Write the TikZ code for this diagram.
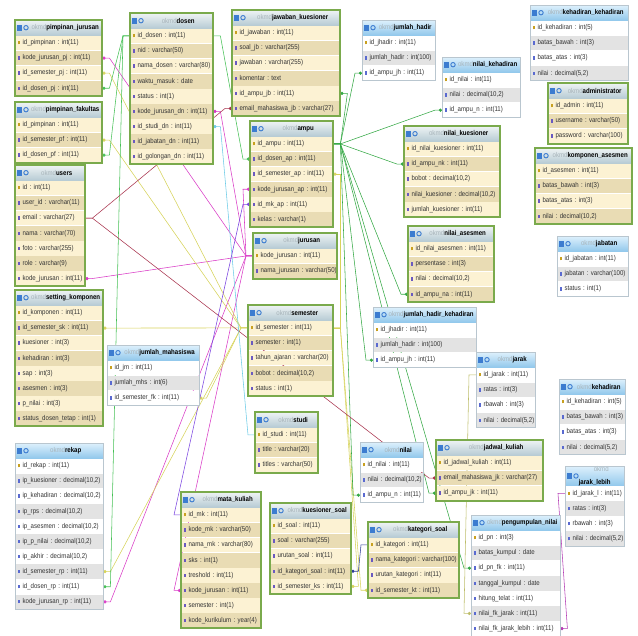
\documentclass[tikz,border=0pt]{standalone}
\usepackage{fontspec}
\setmainfont{Liberation Sans}[FakeStretch=0.87]
\usepackage{xcolor}
\usetikzlibrary{arrows.meta, positioning, backgrounds}
\definecolor{gHeadTop}{HTML}{EEF3F4}
\definecolor{gHeadBot}{HTML}{B7CBD4}
\definecolor{bHeadTop}{HTML}{DDF0FC}
\definecolor{bHeadBot}{HTML}{92C8EC}
\definecolor{gfield1}{HTML}{FCF2D3}
\definecolor{gfield2}{HTML}{E9DCB4}
\definecolor{bfield1}{HTML}{FFFFFF}
\definecolor{bfield2}{HTML}{E3E3E3}
\definecolor{gFrame}{HTML}{7AAA4C}
\definecolor{bFrame}{HTML}{B9C6CF}
\definecolor{okmdgray}{HTML}{A8B4BA}
\definecolor{hdrIcon}{HTML}{3C7CD0}
\definecolor{keygold}{HTML}{C8A020}
\definecolor{gicon}{HTML}{6A5AC0}
\definecolor{bicon}{HTML}{5A6AD0}
\definecolor{cJur}{HTML}{D93BC6}
\definecolor{cSem}{HTML}{D6D35A}
\definecolor{cDos}{HTML}{45C055}
\definecolor{cAmpu}{HTML}{34A844}
\definecolor{cMail}{HTML}{A8344E}
\definecolor{cStudi}{HTML}{6CCBE6}
\definecolor{cMk}{HTML}{7B45E0}
\definecolor{cKat}{HTML}{2C3C96}
\definecolor{cJarak}{HTML}{BDBD6A}
\definecolor{cJl}{HTML}{B43CB4}
\tikzset{
    gtitle/.style={rectangle, top color=gHeadTop, bottom color=gHeadBot, minimum height=15pt, inner sep=0pt, align=center, font=\fontsize{7}{8}\selectfont},
    btitle/.style={rectangle, top color=bHeadTop, bottom color=bHeadBot, minimum height=15pt, inner sep=0pt, align=center, font=\fontsize{7}{8}\selectfont},
    gfield/.style={rectangle, inner sep=0pt, minimum height=14.7pt, align=left, text=black!80, font=\fontsize{7}{8}\selectfont},
    bfield/.style={rectangle, inner sep=0pt, minimum height=14.7pt, align=left, text=black!80, font=\fontsize{7}{8}\selectfont},
    gframe/.style={draw=gFrame, line width=2pt},
    bframe/.style={draw=bFrame, line width=0.6pt},
    fk/.style={line width=0.55pt, {Circle[length=3.2pt]}-},
}
\newcommand{\okmd}{\textcolor{okmdgray}{okmd}}
% table: id, kind (g/b), x, y, width, header, fields
\newcommand{\dbtable}[7]{%
  \node[#2title, minimum width=#5pt, anchor=north west] (#1-0) at (#3,#4) {\hspace*{13pt}#6};
  \foreach \fld [count=\i, remember=\i as \j (initially 0)] in {#7}{
    \ifodd\i \def\rowcol{#2field1}\else \def\rowcol{#2field2}\fi
    \ifnum\i=1 \def\iconcol{keygold}\else \def\iconcol{#2icon}\fi
    \node[#2field, fill=\rowcol, text width=#5pt, below=0pt of #1-\j] (#1-\i)
      {\hspace*{2.5pt}\textcolor{\iconcol}{\rule[0.3pt]{2.4pt}{3.2pt}}\hspace{2.5pt}\mbox{\fld}};
    \xdef\lastrow{\i}
  }
  \draw[#2frame] (#1-0.north west) rectangle (#1-\lastrow.south east);
  \fill[hdrIcon] ([xshift=2pt,yshift=-3pt]#1-0.west) rectangle ++(5pt,6pt);
  \draw[hdrIcon, line width=0.9pt] ([xshift=11pt]#1-0.west) circle (2.2pt);
}

\begin{document}
\catcode`\_=12
\frenchspacing
\begin{tikzpicture}[x=1pt, y=-1pt]
    \useasboundingbox (0,0) rectangle (638,636);

    % left column
    \dbtable{pj}{g}{15}{20}{87}{\okmd\textbf{pimpinan_jurusan}}{id_pimpinan : int(11), kode_jurusan_pj : int(11), id_semester_pj : int(11), id_dosen_pj : int(11)}
    \dbtable{pf}{g}{15}{102}{87}{\okmd\textbf{pimpinan_fakultas}}{id_pimpinan : int(11), id_semester_pf : int(11), id_dosen_pf : int(11)}
    \dbtable{users}{g}{15}{165}{70}{\okmd\textbf{users}}{id : int(11), user_id : varchar(11), email : varchar(27), nama : varchar(70), foto : varchar(255), role : varchar(9), kode_jurusan : int(11)}
    \dbtable{sk}{g}{15}{290}{88}{\okmd\textbf{setting_komponen}}{id_komponen : int(11), id_semester_sk : int(11), kuesioner : int(3), kehadiran : int(3), sap : int(3), asesmen : int(3), p_nilai : int(3), status_dosen_tetap : int(1)}
    \dbtable{jm}{b}{107}{345}{92}{\okmd\textbf{jumlah_mahasiswa}}{id_jm : int(11), jumlah_mhs : int(6), id_semester_fk : int(11)}
    \dbtable{rekap}{b}{15}{443}{88}{\okmd\textbf{rekap}}{id_rekap : int(11), {ip_kuesioner : decimal(10,2)}, {ip_kehadiran : decimal(10,2)}, {ip_rps : decimal(10,2)}, {ip_asesmen : decimal(10,2)}, {ip_p_nilai : decimal(10,2)}, {ip_akhir : decimal(10,2)}, id_semester_rp : int(11), id_dosen_rp : int(11), kode_jurusan_rp : int(11)}

    % middle column
    \dbtable{dosen}{g}{130}{13}{83}{\okmd\textbf{dosen}}{id_dosen : int(11), nid : varchar(50), nama_dosen : varchar(80), waktu_masuk : date, status : int(1), kode_jurusan_dn : int(11), id_studi_dn : int(11), id_jabatan_dn : int(11), id_golongan_dn : int(11)}
    \dbtable{jb}{g}{232}{10}{108}{\okmd\textbf{jawaban_kuesioner}}{id_jawaban : int(11), soal_jb : varchar(255), jawaban : varchar(255), komentar : text, id_ampu_jb : int(11), email_mahasiswa_jb : varchar(27)}
    \dbtable{ampu}{g}{250}{121}{83}{\okmd\textbf{ampu}}{id_ampu : int(11), id_dosen_ap : int(11), id_semester_ap : int(11), kode_jurusan_ap : int(11), id_mk_ap : int(11), kelas : varchar(1)}
    \dbtable{jur}{g}{253}{233}{84}{\okmd\textbf{jurusan}}{kode_jurusan : int(11), nama_jurusan : varchar(50)}
    \dbtable{sem}{g}{248}{305}{85}{\okmd\textbf{semester}}{id_semester : int(11), semester : int(1), tahun_ajaran : varchar(20), {bobot : decimal(10,2)}, status : int(1)}
    \dbtable{studi}{g}{255}{412}{63}{\okmd\textbf{studi}}{id_studi : int(11), title : varchar(20), titles : varchar(50)}
    \dbtable{mk}{g}{181}{492}{80}{\okmd\textbf{mata_kuliah}}{id_mk : int(11), kode_mk : varchar(50), nama_mk : varchar(80), sks : int(1), treshold : int(11), kode_jurusan : int(11), semester : int(1), kode_kurikulum : year(4)}
    \dbtable{ks}{g}{270}{503}{81}{\okmd\textbf{kuesioner_soal}}{id_soal : int(11), soal : varchar(255), urutan_soal : int(11), id_kategori_soal : int(11), id_semester_ks : int(11)}
    \dbtable{kat}{g}{368}{522}{91}{\okmd\textbf{kategori_soal}}{id_kategori : int(11), nama_kategori : varchar(100), urutan_kategori : int(11), id_semester_kt : int(11)}

    % right part
    \dbtable{jh}{b}{362}{20}{73}{\okmd\textbf{jumlah_hadir}}{id_jhadir : int(11), jumlah_hadir : int(100), id_ampu_jh : int(11)}
    \dbtable{nk}{b}{442}{57}{78}{\okmd\textbf{nilai_kehadiran}}{id_nilai : int(11), {nilai : decimal(10,2)}, id_ampu_n : int(11)}
    \dbtable{kk}{b}{530}{5}{98}{\okmd\textbf{kehadiran_kehadiran}}{id_kehadiran : int(5), batas_bawah : int(3), batas_atas : int(3), {nilai : decimal(5,2)}}
    \dbtable{admin}{g}{548}{83}{80}{\okmd\textbf{administrator}}{id_admin : int(11), username : varchar(50), password : varchar(100)}
    \dbtable{nkue}{g}{404}{126}{96}{\okmd\textbf{nilai_kuesioner}}{id_nilai_kuesioner : int(11), id_ampu_nk : int(11), {bobot : decimal(10,2)}, {nilai_kuesioner : decimal(10,2)}, jumlah_kuesioner : int(11)}
    \dbtable{ka}{g}{535}{148}{97}{\okmd\textbf{komponen_asesmen}}{id_asesmen : int(11), batas_bawah : int(3), batas_atas : int(3), {nilai : decimal(10,2)}}
    \dbtable{nas}{g}{408}{226}{86}{\okmd\textbf{nilai_asesmen}}{id_nilai_asesmen : int(11), persentase : int(3), {nilai : decimal(10,2)}, id_ampu_na : int(11)}
    \dbtable{jab}{b}{557}{236}{71}{\okmd\textbf{jabatan}}{id_jabatan : int(11), jabatan : varchar(100), status : int(1)}
    \dbtable{jhk}{b}{373}{307}{103}{\okmd\textbf{jumlah_hadir_kehadiran}}{id_jhadir : int(11), jumlah_hadir : int(100), id_ampu_jh : int(11)}
    \dbtable{jarak}{b}{476}{352}{59}{\okmd\textbf{jarak}}{id_jarak : int(11), ratas : int(3), rbawah : int(3), {nilai : decimal(5,2)}}
    \dbtable{keh}{b}{559}{379}{66}{\okmd\textbf{kehadiran}}{id_kehadiran : int(5), batas_bawah : int(3), batas_atas : int(3), {nilai : decimal(5,2)}}
    \dbtable{nilai}{b}{360}{442}{63}{\okmd\textbf{nilai}}{id_nilai : int(11), {nilai : decimal(10,2)}, id_ampu_n : int(11)}
    \dbtable{jk}{g}{436}{440}{107}{\okmd\textbf{jadwal_kuliah}}{id_jadwal_kuliah : int(11), email_mahasiswa_jk : varchar(27), id_ampu_jk : int(11)}
    \dbtable{jl}{b}{565}{466}{59}{\okmd\\[5pt]\textbf{jarak_lebih}}{id_jarak_l : int(11), ratas : int(3), rbawah : int(3), {nilai : decimal(5,2)}}
    \dbtable{pn}{b}{471}{515}{89}{\okmd\textbf{pengumpulan_nilai}}{id_pn : int(3), batas_kumpul : date, id_pn_fk : int(11), tanggal_kumpul : date, hitung_telat : int(11), nilai_fk_jarak : int(11), nilai_fk_jarak_lebih : int(11)}

    \begin{scope}[on background layer]
    % kode_jurusan
    \draw[fk, cJur] (pj-2.east) -- ++(7,0) -- ([xshift=-7pt]jur-1.west) -- (jur-1.west);
    \draw[fk, cJur] (users-7.east) -- ++(7,0) -- ([xshift=-7pt]jur-1.west) -- (jur-1.west);
    \draw[fk, cJur] (dosen-6.east) -- ++(7,0) -- ([xshift=-7pt]jur-1.west) -- (jur-1.west);
    \draw[fk, cJur] (ampu-4.west) -- ++(-7,0) -- ([xshift=-7pt]jur-1.west) -- (jur-1.west);
    \draw[fk, cJur] (rekap-10.east) -- ++(7,0) -- ([xshift=-7pt]jur-1.west) -- (jur-1.west);
    \draw[fk, cJur] (mk-6.west) -- ++(-7,0) -- ([xshift=-7pt]jur-1.west) -- (jur-1.west);
    % id_semester
    \draw[fk, cSem] (pj-3.east) -- ++(7,0) -- ([xshift=-7pt]sem-1.west) -- (sem-1.west);
    \draw[fk, cSem] (pf-2.east) -- ++(7,0) -- ([xshift=-7pt]sem-1.west) -- (sem-1.west);
    \draw[fk, cSem] (sk-2.east) -- ++(7,0) -- ([xshift=-7pt]sem-1.west) -- (sem-1.west);
    \draw[fk, cSem] (jm-3.east) -- ++(7,0) -- ([xshift=-7pt]sem-1.west) -- (sem-1.west);
    \draw[fk, cSem] (rekap-8.east) -- ++(7,0) -- ([xshift=-7pt]sem-1.west) -- (sem-1.west);
    \draw[fk, cSem] (ampu-3.east) -- ++(7,0) -- ([xshift=7pt]sem-1.east) -- (sem-1.east);
    \draw[fk, cSem] (ks-5.east) -- ++(7,0) -- ([xshift=7pt]sem-1.east) -- (sem-1.east);
    \draw[fk, cSem] (kat-4.west) -- ++(-7,0) -- ([xshift=7pt]sem-1.east) -- (sem-1.east);
    % id_dosen
    \draw[fk, cDos] (pj-4.east) -- ++(7,0) -- ([xshift=-7pt]dosen-1.west) -- (dosen-1.west);
    \draw[fk, cDos] (pf-3.east) -- ++(7,0) -- ([xshift=-7pt]dosen-1.west) -- (dosen-1.west);
    \draw[fk, cDos] (rekap-9.east) -- ++(7,0) -- ([xshift=-7pt]dosen-1.west) -- (dosen-1.west);
    \draw[fk, cDos] (ampu-2.west) -- ++(-7,0) -- ([xshift=7pt]dosen-1.east) -- (dosen-1.east);
    % id_ampu
    \draw[fk, cAmpu] (jb-5.east) -- ++(7,0) -- ([xshift=7pt]ampu-1.east) -- (ampu-1.east);
    \draw[fk, cAmpu] (jh-3.west) -- ++(-7,0) -- ([xshift=7pt]ampu-1.east) -- (ampu-1.east);
    \draw[fk, cAmpu] (nk-3.west) -- ++(-7,0) -- ([xshift=7pt]ampu-1.east) -- (ampu-1.east);
    \draw[fk, cAmpu] (nkue-2.west) -- ++(-7,0) -- ([xshift=7pt]ampu-1.east) -- (ampu-1.east);
    \draw[fk, cAmpu] (nas-4.west) -- ++(-7,0) -- ([xshift=7pt]ampu-1.east) -- (ampu-1.east);
    \draw[fk, cAmpu] (jhk-3.west) -- ++(-7,0) -- ([xshift=7pt]ampu-1.east) -- (ampu-1.east);
    \draw[fk, cAmpu] (nilai-3.west) -- ++(-7,0) -- ([xshift=7pt]ampu-1.east) -- (ampu-1.east);
    \draw[fk, cAmpu] (jk-3.west) -- ++(-7,0) -- ([xshift=7pt]ampu-1.east) -- (ampu-1.east);
    \draw[fk, cAmpu] (pn-3.west) -- ++(-7,0) -- ([xshift=7pt]ampu-1.east) -- (ampu-1.east);
    % email mahasiswa
    \draw[fk, cMail] (jb-6.west) -- ++(-7,0) -- ([xshift=7pt]users-3.east) -- (users-3.east);
    \draw[fk, cMail] (jk-2.west) -- ++(-7,0) -- ([xshift=7pt]users-3.east) -- (users-3.east);
    % others
    \draw[fk, cStudi] (dosen-7.east) -- ++(7,0) -- ([xshift=-7pt]studi-1.west) -- (studi-1.west);
    \draw[fk, cMk] (ampu-5.west) -- ++(-7,0) -- ([xshift=-7pt]mk-1.west) -- (mk-1.west);
    \draw[fk, cKat] (ks-4.east) -- ++(7,0) -- ([xshift=-7pt]kat-1.west) -- (kat-1.west);
    \draw[fk, cJarak] (pn-6.west) -- ++(-7,0) -- ([xshift=-7pt]jarak-1.west) -- (jarak-1.west);
    \draw[fk, cJl] (pn-7.east) -- ++(7,0) -- ([xshift=-7pt]jl-1.west) -- (jl-1.west);
    \end{scope}
\end{tikzpicture}
\end{document}
